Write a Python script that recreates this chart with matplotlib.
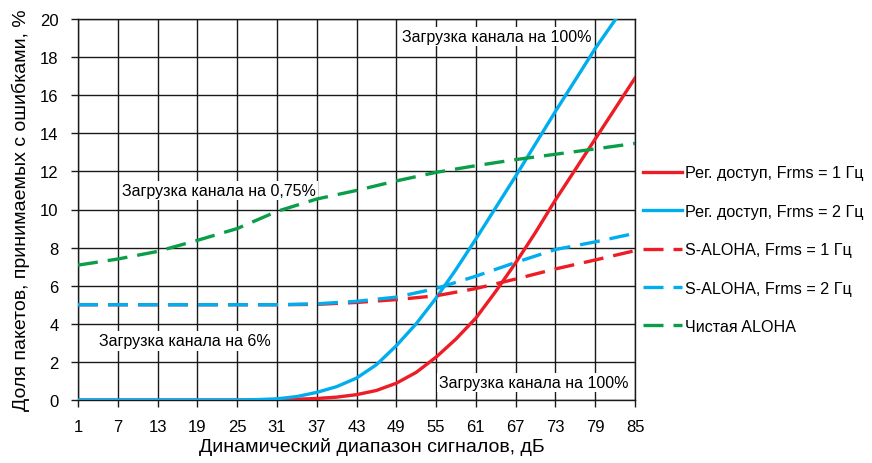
import matplotlib.pyplot as plt

plt.rcParams['font.family'] = ['Liberation Sans', 'DejaVu Sans']

# x positions (dB) and read-off values (%)
x_reg1 = [1, 25, 28, 31, 34, 37, 40, 43, 46, 49, 52, 55, 58, 61, 64, 67, 70, 73, 76, 79, 82, 85]
y_reg1 = [0, 0, 0.0, 0.02, 0.04, 0.08, 0.15, 0.28, 0.5, 0.88, 1.45, 2.25, 3.2, 4.3, 5.7, 7.2,
          8.8, 10.5, 12.1, 13.7, 15.3, 16.9]

x_reg2 = [1, 22, 25, 28, 31, 34, 37, 40, 43, 46, 49, 52, 55, 58, 61, 64, 67, 70, 73, 76, 79, 82.1]
y_reg2 = [0, 0, 0, 0.02, 0.06, 0.18, 0.4, 0.7, 1.15, 1.85, 2.85, 4.0, 5.35, 6.85, 8.45, 10.1,
          11.75, 13.45, 15.15, 16.8, 18.45, 20.0]

x_grid = [1, 7, 13, 19, 25, 31, 37, 43, 49, 55, 61, 67, 73, 79, 85]
y_saloha1 = [5.0, 5.0, 5.0, 5.0, 5.0, 5.0, 5.02, 5.12, 5.27, 5.47, 5.85, 6.35, 6.88, 7.35, 7.84]
y_saloha2 = [5.0, 5.0, 5.0, 5.0, 5.0, 5.0, 5.05, 5.18, 5.4, 5.85, 6.5, 7.22, 7.9, 8.3, 8.75]
y_aloha = [7.08, 7.4, 7.8, 8.38, 9.0, 9.9, 10.55, 11.0, 11.5, 11.95, 12.3, 12.62, 12.9, 13.18, 13.47]

labels = ['Рег. доступ, Frms = 1 Гц', 'Рег. доступ, Frms = 2 Гц',
          'S-ALOHA, Frms = 1 Гц', 'S-ALOHA, Frms = 2 Гц', 'Чистая ALOHA']

red = '#ee1c25'
blue = '#00aeef'
green = '#0a9e48'

fig = plt.figure(figsize=(8.72, 4.64), dpi=100)
ax = fig.add_axes([78 / 872, 1 - 401 / 464, (635 - 78) / 872, (401 - 20) / 464])

lw = 2.4
dash = (6, 3)
ax.plot(x_reg1, y_reg1, color=red, lw=lw, label=labels[0], zorder=3)
ax.plot(x_reg2, y_reg2, color=blue, lw=lw, label=labels[1], zorder=3)
ax.plot(x_grid, y_saloha1, color=red, lw=lw, dashes=dash, label=labels[2], zorder=3)
ax.plot(x_grid, y_saloha2, color=blue, lw=lw, dashes=dash, label=labels[3], zorder=3)
ax.plot(x_grid, y_aloha, color=green, lw=lw, dashes=dash, label=labels[4], zorder=3)

ax.set_xlim(1, 85)
ax.set_ylim(0, 20)
ax.set_xticks(x_grid)
ax.set_yticks(range(0, 21, 2))
ax.grid(True, color='#1a1a1a', lw=1.0)
ax.set_axisbelow(True)
for s in ax.spines.values():
    s.set_color('#1a1a1a')
    s.set_linewidth(1.0)
ax.tick_params(labelsize=12, length=5, width=1.0, color='#1a1a1a', pad=9)

ax.set_xlabel('Динамический диапазон сигналов, дБ', fontsize=14)
ax.xaxis.set_label_coords(0.528, -0.097)
ax.set_ylabel('Доля пакетов, принимаемых с ошибками, %', fontsize=14, labelpad=7)

box = dict(facecolor='white', edgecolor='none', pad=1.5)
ax.text(64.2, 19.1, 'Загрузка канала на 100%', fontsize=11.5, ha='center', va='center', bbox=box, zorder=2)
ax.text(22.2, 11.0, 'Загрузка канала на 0,75%', fontsize=11.5, ha='center', va='center', bbox=box, zorder=2)
ax.text(17.1, 3.1, 'Загрузка канала на 6%', fontsize=11.5, ha='center', va='center', bbox=box, zorder=2)
ax.text(69.7, 0.9, 'Загрузка канала на 100%', fontsize=11.5, ha='center', va='center', bbox=box, zorder=2)

fig.legend(loc='upper left', bbox_to_anchor=(637 / 872, 1 - 160 / 464), frameon=False,
           fontsize=11.6, handlelength=2.4, handletextpad=0.15, labelspacing=1.45,
           borderaxespad=0)

fig.savefig('out.png', dpi=100)
